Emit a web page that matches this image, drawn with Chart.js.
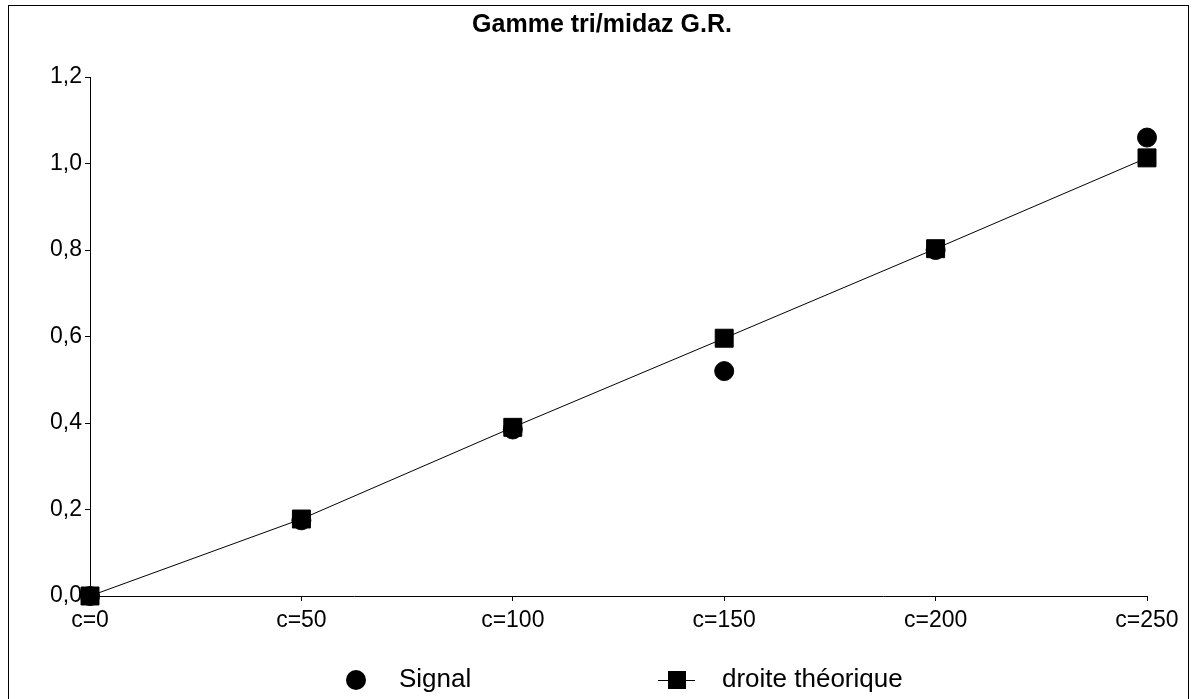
<!DOCTYPE html>
<html lang="fr">
<head>
<meta charset="UTF-8">
<title>Gamme tri/midaz G.R.</title>
<script src="https://cdn.jsdelivr.net/npm/chart.js"></script>
<style>
  body { margin: 0; background: #fff; }
  #wrap { position: relative; width: 1195px; height: 699px; }
</style>
</head>
<body>
<div id="wrap"><canvas id="chart"></canvas></div>
<script>
// data
const categories = ['c=0', 'c=50', 'c=100', 'c=150', 'c=200', 'c=250'];
const signal = [0, 0.175, 0.385, 0.52, 0.80, 1.06];
const droite = [0, 0.178, 0.39, 0.596, 0.803, 1.013];
const yTickLabels = ['0,0', '0,2', '0,4', '0,6', '0,8', '1,0', '1,2'];
const chartTitle = 'Gamme tri/midaz G.R.';

const FONT = "'Liberation Sans', Arial, sans-serif";
Chart.defaults.font.family = FONT;
Chart.defaults.color = '#000';

// outer frame, title (slightly right of centre in the original) and legend
const frameTitleLegend = {
    id: 'frameTitleLegend',
    beforeDraw(chart) {
        const ctx = chart.ctx;
        ctx.save();
        ctx.strokeStyle = '#000';
        ctx.lineWidth = 1;
        ctx.strokeRect(8.5, 5.5, 1180, 700);
        ctx.restore();
    },
    afterDraw(chart) {
        const ctx = chart.ctx;
        const ds = chart.data.datasets;
        const y = 680;
        ctx.save();
        ctx.fillStyle = '#000';
        ctx.strokeStyle = '#000';

        ctx.font = 'bold 25px ' + FONT;
        ctx.textAlign = 'center';
        ctx.textBaseline = 'alphabetic';
        ctx.fillText(chartTitle, 602, 32);

        ctx.font = '26px ' + FONT;
        ctx.textAlign = 'left';
        ctx.textBaseline = 'middle';

        // Signal
        ctx.beginPath();
        ctx.arc(356, y, 10, 0, Math.PI * 2);
        ctx.fill();
        ctx.fillText(ds[0].label, 399, y);

        // droite théorique
        ctx.lineWidth = 1;
        ctx.beginPath();
        ctx.moveTo(658, y + 0.5);
        ctx.lineTo(695, y + 0.5);
        ctx.stroke();
        ctx.fillRect(668, y - 9, 18, 18);
        ctx.fillText(ds[1].label, 722, y);
        ctx.restore();
    }
};

new Chart(document.getElementById('chart'), {
    type: 'line',
    data: {
        labels: categories,
        datasets: [
            {
                label: 'Signal',
                data: signal,
                showLine: false,
                pointStyle: 'circle',
                pointRadius: 9.5,
                pointBackgroundColor: '#000',
                pointBorderColor: '#000',
                borderColor: '#000',
                order: 1,
                clip: false
            },
            {
                label: 'droite théorique',
                data: droite,
                borderColor: '#000',
                borderWidth: 1,
                pointStyle: 'rect',
                pointRadius: 12.7,
                pointBackgroundColor: '#000',
                pointBorderColor: '#000',
                tension: 0,
                order: 0,
                clip: false
            }
        ]
    },
    options: {
        responsive: true,
        maintainAspectRatio: false,
        animation: false,
        layout: { padding: { left: 20, right: 48, top: 77, bottom: 0 } },
        plugins: {
            legend: { display: false },
            tooltip: { enabled: false },
            title: { display: false }
        },
        scales: {
            x: {
                offset: false,
                afterFit(s) { s.height = 103; },
                grid: { drawOnChartArea: false, drawTicks: true, tickLength: 5, color: '#000' },
                border: { display: true, color: '#000', width: 1 },
                ticks: { font: { size: 23 }, padding: 6, color: '#000', maxRotation: 0, autoSkip: false }
            },
            y: {
                min: 0,
                max: 1.2,
                afterFit(s) { s.width = 70; },
                grid: { drawOnChartArea: false, drawTicks: true, tickLength: 5, color: '#000' },
                border: { display: true, color: '#000', width: 1 },
                ticks: {
                    stepSize: 0.2,
                    padding: 3,
                    font: { size: 23 },
                    color: '#000',
                    callback: (v, i) => yTickLabels[i]
                }
            }
        }
    },
    plugins: [frameTitleLegend]
});
</script>
</body>
</html>
